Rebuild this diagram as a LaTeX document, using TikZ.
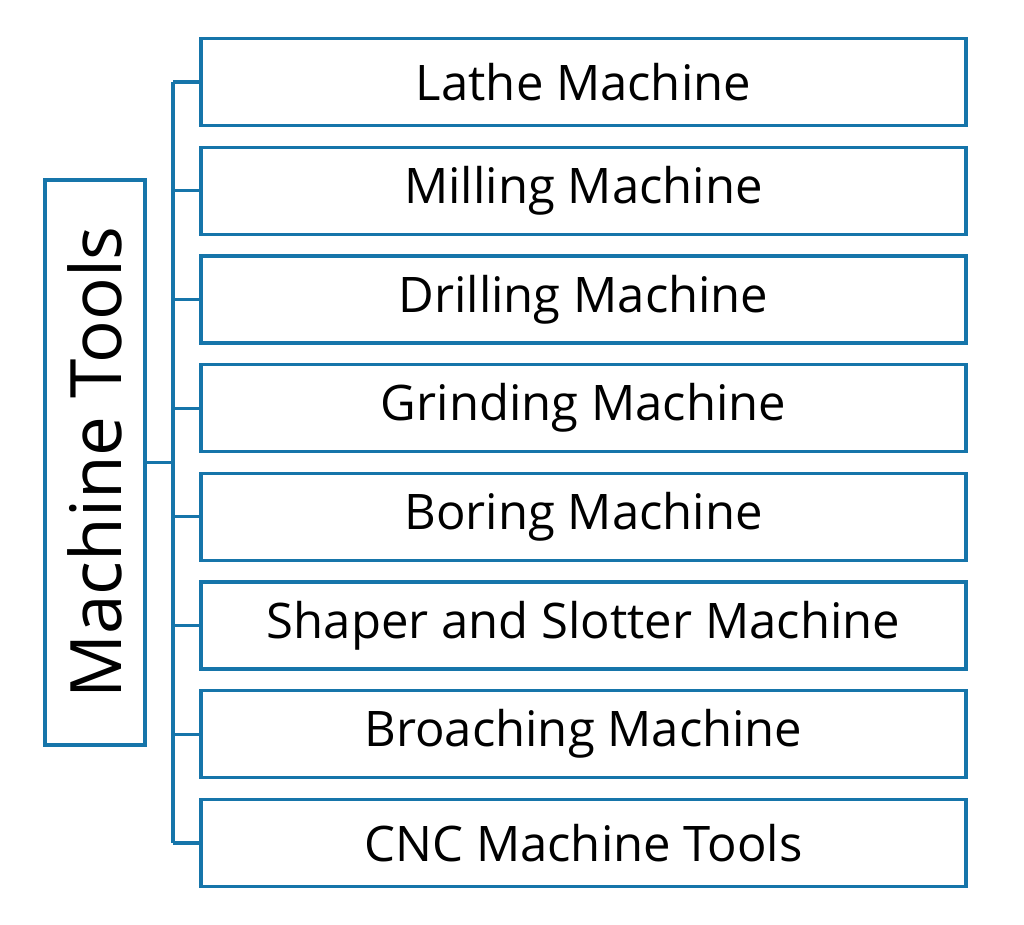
\documentclass[tikz,border=0pt]{standalone}
\usepackage{fontspec}
\setmainfont{Open Sans}
\definecolor{edge}{RGB}{22,117,170}
\begin{document}
\begin{tikzpicture}[x=1pt,y=-1pt,
  itembox/.style={draw=edge,line width=3.2pt,minimum width=765pt,minimum height=87pt,inner sep=0pt,font=\fontsize{49}{52}\selectfont},
  rootbox/.style={draw=edge,line width=3.2pt,minimum width=565pt,minimum height=100pt,inner sep=0pt,rotate=90,font=\fontsize{71}{74}\selectfont},
  link/.style={draw=edge,line width=3.2pt}]
\useasboundingbox (0,0) rectangle (1024,924);
\node[rootbox] (root) at (95,462.5) {Machine Tools};
\coordinate (trunk) at (173,462.5);
\foreach \i/\t in {1/Lathe Machine,2/Milling Machine,3/Drilling Machine,4/Grinding Machine,5/Boring Machine,6/Shaper and Slotter Machine,7/Broaching Machine,8/CNC Machine Tools}{
  \node[itembox] (b\i) at (583.5,{82+(\i-1)*108.7}) {\t};
  \coordinate (j\i) at (173,{82+(\i-1)*108.7});
}
\draw[link] (root.south) -- (trunk);
\draw[link] (j1) -- (j8);
\foreach \i in {1,...,8}{\draw[link] (j\i) -- (b\i.west);}
\end{tikzpicture}
\end{document}
